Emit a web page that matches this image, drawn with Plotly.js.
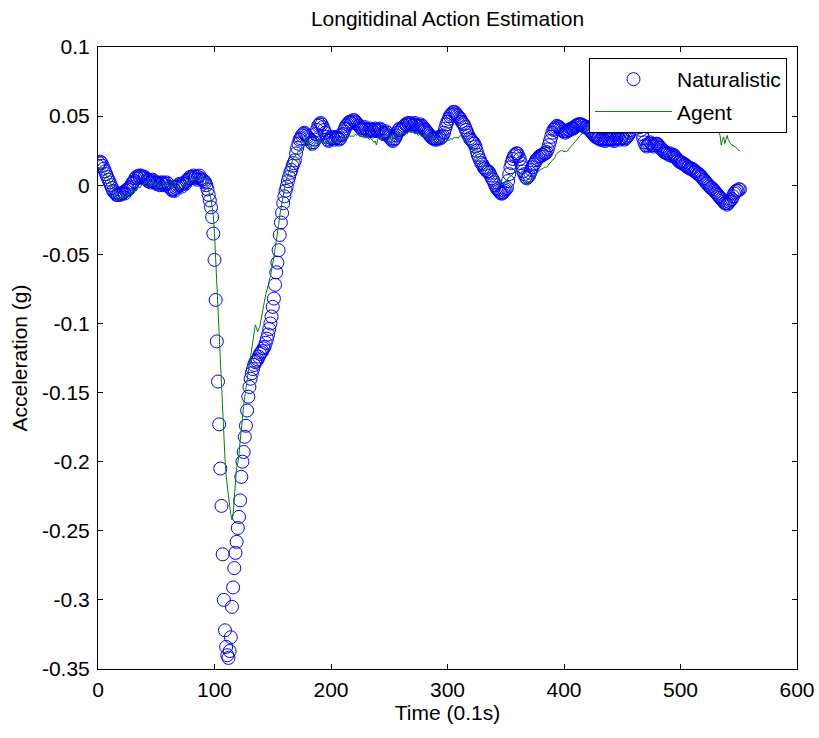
<!DOCTYPE html>
<html><head><meta charset="utf-8">
<script src="https://cdn.plot.ly/plotly-3.0.1.min.js"></script>
<style>html,body{margin:0;padding:0;background:#fff}#chart{width:819px;height:738px}</style>
</head><body><div id="chart"></div>
<script>
// Sampled every 0.1 s (index = time step)
const naturalistic = [
0.014,0.016,0.017,0.016,0.014,0.012,0.010,0.008,0.006,0.004,
0.002,0.000,-0.002,-0.004,-0.005,-0.006,-0.007,-0.007,-0.006,-0.007,
-0.006,-0.006,-0.005,-0.006,-0.004,-0.003,-0.003,-0.002,-0.001,0.001,
0.002,0.003,0.005,0.006,0.005,0.007,0.006,0.007,0.006,0.005,
0.006,0.005,0.004,0.003,0.004,0.002,0.003,0.004,0.003,0.002,
0.001,0.002,0.001,0.000,0.002,0.001,0.002,0.000,0.001,0.002,
0.001,-0.001,-0.002,-0.003,-0.004,-0.003,-0.004,-0.002,-0.001,0.000,
0.001,0.000,-0.001,0.001,0.002,0.001,0.003,0.004,0.005,0.006,
0.005,0.006,0.007,0.005,0.006,0.004,0.006,0.007,0.005,0.004,
0.004,0.003,0.002,0.000,-0.003,-0.007,-0.011,-0.016,-0.023,-0.035,
-0.054,-0.083,-0.113,-0.142,-0.173,-0.205,-0.232,-0.267,-0.300,-0.322,
-0.334,-0.340,-0.342,-0.337,-0.327,-0.305,-0.291,-0.277,-0.266,-0.258,
-0.248,-0.240,-0.228,-0.211,-0.200,-0.193,-0.182,-0.174,-0.163,-0.153,
-0.146,-0.140,-0.136,-0.133,-0.130,-0.128,-0.127,-0.126,-0.124,-0.122,
-0.121,-0.120,-0.118,-0.117,-0.114,-0.111,-0.108,-0.104,-0.100,-0.095,
-0.088,-0.082,-0.072,-0.063,-0.056,-0.047,-0.036,-0.027,-0.020,-0.013,
-0.008,-0.004,-0.001,0.003,0.006,0.009,0.011,0.014,0.016,0.018,
0.023,0.027,0.030,0.033,0.034,0.036,0.037,0.038,0.037,0.036,
0.035,0.034,0.033,0.031,0.030,0.031,0.033,0.037,0.040,0.043,
0.044,0.045,0.044,0.042,0.040,0.038,0.035,0.033,0.032,0.033,
0.034,0.035,0.034,0.033,0.034,0.035,0.034,0.033,0.034,0.036,
0.037,0.039,0.041,0.043,0.044,0.045,0.046,0.045,0.046,0.047,
0.047,0.046,0.045,0.044,0.043,0.042,0.041,0.040,0.041,0.042,
0.041,0.040,0.039,0.040,0.041,0.040,0.039,0.040,0.041,0.040,
0.039,0.040,0.041,0.040,0.038,0.037,0.038,0.039,0.038,0.036,
0.035,0.034,0.033,0.032,0.033,0.034,0.036,0.038,0.040,0.041,
0.040,0.041,0.042,0.043,0.044,0.044,0.045,0.044,0.045,0.044,
0.043,0.044,0.045,0.044,0.043,0.042,0.043,0.044,0.043,0.042,
0.041,0.040,0.039,0.038,0.037,0.036,0.035,0.034,0.034,0.033,
0.034,0.033,0.034,0.035,0.034,0.035,0.036,0.038,0.041,0.044,
0.046,0.048,0.050,0.051,0.052,0.053,0.053,0.052,0.051,0.050,
0.049,0.048,0.046,0.045,0.044,0.042,0.040,0.038,0.036,0.034,
0.033,0.032,0.031,0.030,0.028,0.025,0.022,0.020,0.018,0.016,
0.015,0.013,0.012,0.011,0.010,0.010,0.009,0.007,0.005,0.004,
0.002,0.000,-0.002,-0.003,-0.004,-0.005,-0.006,-0.006,-0.005,-0.004,
-0.003,-0.002,0.003,0.008,0.013,0.016,0.019,0.021,0.022,0.023,
0.023,0.021,0.019,0.016,0.013,0.010,0.008,0.006,0.005,0.006,
0.007,0.009,0.011,0.013,0.015,0.016,0.018,0.019,0.020,0.021,
0.021,0.022,0.022,0.023,0.023,0.024,0.026,0.029,0.032,0.035,
0.038,0.040,0.041,0.042,0.043,0.042,0.042,0.041,0.040,0.039,
0.039,0.038,0.039,0.039,0.040,0.040,0.041,0.041,0.041,0.042,
0.043,0.043,0.044,0.044,0.044,0.044,0.043,0.043,0.042,0.042,
0.042,0.041,0.040,0.039,0.038,0.037,0.036,0.035,0.035,0.034,
0.034,0.033,0.033,0.034,0.033,0.032,0.033,0.034,0.033,0.034,
0.033,0.034,0.033,0.032,0.033,0.034,0.035,0.034,0.033,0.034,
0.035,0.034,0.033,0.034,0.035,0.036,0.038,0.040,0.042,0.044,
0.045,0.046,0.046,0.045,0.044,0.042,0.040,0.037,0.034,0.031,
0.029,0.028,0.029,0.030,0.031,0.030,0.029,0.028,0.029,0.030,
0.030,0.029,0.028,0.027,0.026,0.025,0.024,0.024,0.023,0.023,
0.022,0.023,0.022,0.021,0.022,0.021,0.020,0.019,0.018,0.017,
0.017,0.016,0.016,0.015,0.015,0.014,0.013,0.013,0.012,0.012,
0.012,0.011,0.010,0.010,0.009,0.008,0.008,0.007,0.006,0.005,
0.004,0.003,0.002,0.001,0.000,-0.001,-0.002,-0.002,-0.003,-0.004,
-0.005,-0.006,-0.007,-0.008,-0.009,-0.010,-0.011,-0.012,-0.013,-0.013,
-0.014,-0.013,-0.012,-0.011,-0.010,-0.008,-0.006,-0.005,-0.004,-0.004,
-0.003,-0.003
];
const agent = [
0.012,0.012,0.011,0.010,0.010,0.009,0.008,0.007,0.006,0.005,
0.003,0.001,-0.001,-0.003,-0.005,-0.007,-0.009,-0.010,-0.011,-0.009,
-0.008,-0.010,-0.008,-0.009,-0.007,-0.008,-0.006,-0.007,-0.005,-0.006,
-0.004,-0.005,-0.003,-0.004,-0.002,-0.001,-0.002,0.000,0.001,0.000,
0.002,0.001,0.003,0.002,0.000,-0.001,0.000,0.002,0.001,0.002,
0.001,0.000,-0.002,-0.001,-0.002,0.001,0.002,0.001,0.003,0.002,
0.001,-0.001,0.000,-0.001,0.002,0.003,0.001,-0.001,-0.003,-0.002,
-0.003,-0.001,0.000,-0.001,0.001,0.000,0.002,0.003,0.002,0.004,
0.003,0.004,0.005,0.004,0.005,0.004,0.005,0.006,0.005,0.006,
0.006,0.005,0.004,0.002,-0.001,-0.004,-0.007,-0.010,-0.016,-0.022,
-0.035,-0.054,-0.072,-0.089,-0.110,-0.132,-0.148,-0.165,-0.182,-0.198,
-0.210,-0.219,-0.226,-0.232,-0.238,-0.242,-0.238,-0.225,-0.212,-0.204,
-0.201,-0.195,-0.185,-0.175,-0.167,-0.160,-0.153,-0.146,-0.140,-0.134,
-0.129,-0.124,-0.119,-0.114,-0.108,-0.101,-0.103,-0.106,-0.104,-0.102,
-0.097,-0.092,-0.087,-0.083,-0.079,-0.076,-0.073,-0.070,-0.066,-0.061,
-0.057,-0.052,-0.046,-0.041,-0.035,-0.029,-0.022,-0.017,-0.011,-0.006,
-0.002,0.002,0.005,0.008,0.011,0.014,0.016,0.018,0.020,0.021,
0.022,0.023,0.025,0.024,0.026,0.028,0.027,0.030,0.033,0.035,
0.031,0.027,0.025,0.027,0.029,0.028,0.030,0.031,0.030,0.033,
0.031,0.030,0.032,0.031,0.030,0.031,0.032,0.031,0.030,0.031,
0.032,0.031,0.030,0.031,0.032,0.031,0.032,0.033,0.032,0.033,
0.034,0.033,0.034,0.035,0.034,0.035,0.036,0.035,0.036,0.035,
0.036,0.037,0.036,0.037,0.036,0.035,0.036,0.035,0.034,0.035,
0.034,0.035,0.034,0.033,0.034,0.033,0.032,0.031,0.032,0.029,
0.033,0.034,0.035,0.036,0.035,0.036,0.037,0.036,0.037,0.036,
0.037,0.036,0.030,0.035,0.036,0.037,0.036,0.037,0.036,0.037,
0.036,0.037,0.038,0.037,0.038,0.037,0.038,0.039,0.038,0.038,
0.039,0.038,0.037,0.038,0.037,0.036,0.037,0.036,0.035,0.036,
0.035,0.036,0.035,0.036,0.035,0.034,0.035,0.034,0.035,0.034,
0.033,0.034,0.033,0.032,0.033,0.032,0.031,0.032,0.031,0.032,
0.033,0.032,0.033,0.034,0.033,0.034,0.035,0.034,0.035,0.034,
0.035,0.036,0.035,0.034,0.033,0.032,0.031,0.030,0.030,0.029,
0.028,0.027,0.025,0.024,0.022,0.020,0.019,0.018,0.017,0.016,
0.015,0.014,0.014,0.013,0.012,0.012,0.011,0.010,0.010,0.009,
0.008,0.007,0.006,0.005,0.004,0.003,0.001,0.000,0.001,0.002,
0.003,0.004,0.005,0.006,0.006,0.007,0.008,0.009,0.010,0.010,
0.011,0.010,0.009,0.008,0.006,0.005,0.004,0.003,0.001,0.000,
0.001,0.003,0.004,0.005,0.006,0.007,0.008,0.009,0.010,0.011,
0.011,0.012,0.012,0.013,0.013,0.013,0.014,0.015,0.016,0.017,
0.018,0.019,0.020,0.022,0.023,0.024,0.024,0.025,0.025,0.025,
0.024,0.025,0.024,0.025,0.026,0.027,0.028,0.029,0.030,0.031,
0.032,0.033,0.034,0.035,0.036,0.037,0.038,0.039,0.040,0.041,
0.041,0.042,0.043,0.042,0.043,0.044,0.043,0.044,0.045,0.044,
0.044,0.045,0.044,0.045,0.046,0.045,0.044,0.045,0.044,0.043,
0.044,0.043,0.044,0.045,0.044,0.043,0.044,0.043,0.042,0.043,
0.042,0.043,0.042,0.043,0.044,0.045,0.046,0.047,0.048,0.047,
0.048,0.047,0.046,0.045,0.044,0.043,0.042,0.041,0.040,0.040,
0.039,0.040,0.039,0.040,0.041,0.040,0.041,0.040,0.041,0.040,
0.041,0.042,0.041,0.042,0.043,0.042,0.043,0.042,0.041,0.042,
0.041,0.042,0.041,0.040,0.041,0.040,0.041,0.040,0.041,0.040,
0.041,0.042,0.043,0.042,0.043,0.044,0.043,0.044,0.043,0.044,
0.043,0.044,0.045,0.044,0.045,0.044,0.045,0.046,0.045,0.044,
0.045,0.044,0.043,0.044,0.043,0.042,0.043,0.042,0.041,0.042,
0.041,0.040,0.039,0.038,0.036,0.029,0.033,0.035,0.030,0.033,
0.036,0.033,0.031,0.030,0.029,0.029,0.028,0.028,0.027,0.026,
0.025,0.025
];
const xTickVals = [0,100,200,300,400,500,600];
const yTickVals = [0.1,0.05,0,-0.05,-0.1,-0.15,-0.2,-0.25,-0.3,-0.35];
const yTickText = ['0.1','0.05','0','-0.05','-0.1','-0.15','-0.2','-0.25','-0.3','-0.35'];
const seriesNames = ['Naturalistic','Agent'];

const timeN = naturalistic.map((v,i)=>i);
const timeA = agent.map((v,i)=>i);

const FONT = 'Liberation Sans, Arial, Helvetica, sans-serif';

const traces = [
  {x: timeN, y: naturalistic, name: seriesNames[0], type:'scatter', mode:'markers',
   legendgroup:'g1',
   marker:{symbol:'circle-open', size:13, color:'#0000ff', line:{width:1, color:'#0000ff'}}},
  {x: timeA, y: agent, name: seriesNames[1], type:'scatter', mode:'lines',
   legendgroup:'g2',
   line:{color:'#008000', width:1}}
];

const axisCommon = {
  showgrid:false, zeroline:false, showline:true, linecolor:'#000', linewidth:1,
  mirror:'ticks', ticks:'inside', ticklen:5, tickwidth:1, tickcolor:'#000',
  tickfont:{family:FONT, size:21, color:'#000'}
};

const layout = {
  width:819, height:738,
  margin:{l:98, r:22, t:47, b:69},
  paper_bgcolor:'#fff', plot_bgcolor:'#fff',
  font:{family:FONT, size:21, color:'#000'},
  title:{text:'Longitidinal Action Estimation', font:{family:FONT, size:21, color:'#000'},
         x:0.5, xref:'paper', y:1-19/738, yref:'container', yanchor:'middle'},
  xaxis:Object.assign({}, axisCommon, {range:[0,600], tickvals:xTickVals,
         title:{text:'Time (0.1s)', font:{family:FONT, size:21}, standoff:5}, ticklabelstandoff:2}),
  yaxis:Object.assign({}, axisCommon, {range:[-0.35,0.1], tickvals:yTickVals, ticktext:yTickText,
         title:{text:'Acceleration (g)', font:{family:FONT, size:21}, standoff:8}, ticklabelstandoff:3}),
  showlegend:true,
  legend:{x:0.9857, y:0.9823, xanchor:'right', yanchor:'top', bgcolor:'#fff',
          bordercolor:'#000', borderwidth:1, font:{family:FONT, size:21, color:'#000'},
          itemwidth:77, tracegroupgap:2}
};

Plotly.newPlot('chart', traces, layout, {displayModeBar:false, staticPlot:true});
</script>
</body></html>
